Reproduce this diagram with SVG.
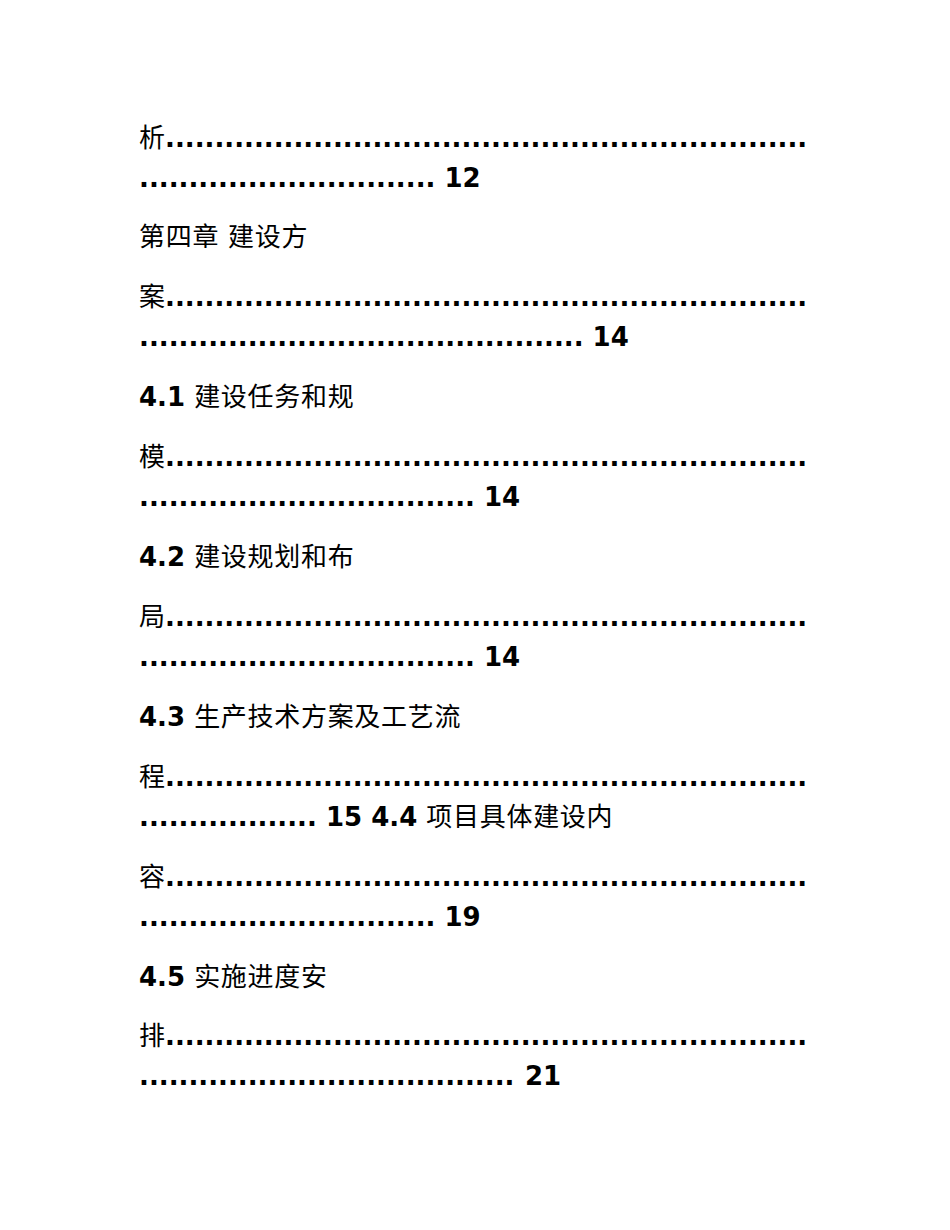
<svg xmlns="http://www.w3.org/2000/svg" width="950" height="1230" viewBox="0 0 950 1230">
<style>
text { font-size: 26px; fill: #000; }
.c { font-family: "Noto Sans CJK SC", "Noto Sans CJK JP", sans-serif; font-weight: normal; letter-spacing: 0.7px; }
.b { font-family: "DejaVu Sans", "Liberation Sans", sans-serif; font-weight: bold; }
</style>
<rect width="950" height="1230" fill="#ffffff"/>

<g id="entry-analysis">
<text class="c" x="139" y="147">析</text>
<text class="b" x="165" y="147" textLength="642.2" lengthAdjust="spacing">.................................................................</text>
<text class="b" x="139" y="187" textLength="296.4" lengthAdjust="spacing">..............................</text>
<text class="b" x="444.5" y="187">12</text>
</g>

<g id="entry-ch4">
<text class="c" x="139" y="246">第四章</text>
<text class="c" x="228" y="246">建设方</text>
<text class="c" x="139" y="306">案</text>
<text class="b" x="165" y="306" textLength="642.2" lengthAdjust="spacing">.................................................................</text>
<text class="b" x="139" y="346" textLength="444.6" lengthAdjust="spacing">.............................................</text>
<text class="b" x="592.6" y="346">14</text>
</g>

<g id="entry-4-1">
<text x="139" y="406" xml:space="preserve"><tspan class="b">4.1 </tspan><tspan class="c">建设任务和规</tspan></text>
<text class="c" x="139" y="466">模</text>
<text class="b" x="165" y="466" textLength="642.2" lengthAdjust="spacing">.................................................................</text>
<text class="b" x="139" y="506" textLength="335.9" lengthAdjust="spacing">..................................</text>
<text class="b" x="483.9" y="506">14</text>
</g>

<g id="entry-4-2">
<text x="139" y="566" xml:space="preserve"><tspan class="b">4.2 </tspan><tspan class="c">建设规划和布</tspan></text>
<text class="c" x="139" y="626">局</text>
<text class="b" x="165" y="626" textLength="642.2" lengthAdjust="spacing">.................................................................</text>
<text class="b" x="139" y="666" textLength="335.9" lengthAdjust="spacing">..................................</text>
<text class="b" x="483.9" y="666">14</text>
</g>

<g id="entry-4-3">
<text x="139" y="726" xml:space="preserve"><tspan class="b">4.3 </tspan><tspan class="c">生产技术方案及工艺流</tspan></text>
<text class="c" x="139" y="786">程</text>
<text class="b" x="165" y="786" textLength="642.2" lengthAdjust="spacing">.................................................................</text>
<text class="b" x="139" y="826" textLength="177.8" lengthAdjust="spacing">..................</text>
</g>

<g id="entry-4-4">
<text x="326" y="826" xml:space="preserve"><tspan class="b">15 4.4 </tspan><tspan class="c">项目具体建设内</tspan></text>
<text class="c" x="139" y="886">容</text>
<text class="b" x="165" y="886" textLength="642.2" lengthAdjust="spacing">.................................................................</text>
<text class="b" x="139" y="926" textLength="296.4" lengthAdjust="spacing">..............................</text>
<text class="b" x="444.5" y="926">19</text>
</g>

<g id="entry-4-5">
<text x="139" y="986" xml:space="preserve"><tspan class="b">4.5 </tspan><tspan class="c">实施进度安</tspan></text>
<text class="c" x="139" y="1045">排</text>
<text class="b" x="165" y="1045" textLength="642.2" lengthAdjust="spacing">.................................................................</text>
<text class="b" x="139" y="1085" textLength="375.4" lengthAdjust="spacing">......................................</text>
<text class="b" x="525" y="1085">21</text>
</g>
</svg>
